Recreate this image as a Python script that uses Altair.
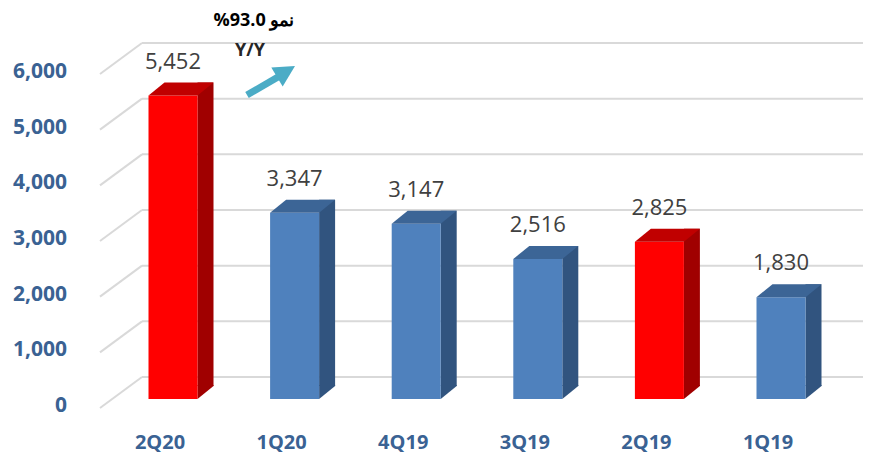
import altair as alt
import pandas as pd

# ---- data ----
quarters = ["2Q20", "1Q20", "4Q19", "3Q19", "2Q19", "1Q19"]
values = [5452, 3347, 3147, 2516, 2825, 1830]
highlighted = ["2Q20", "2Q19"]
y_ticks = [0, 1000, 2000, 3000, 4000, 5000, 6000]
growth_text = "%93.0 نمو"
growth_sub = "Y/Y"

bars = pd.DataFrame({"quarter": quarters, "idx": list(range(len(quarters))), "value": values})
bars["hl"] = bars["quarter"].isin(highlighted)
grid = pd.DataFrame({"tick": y_ticks})
one = pd.DataFrame({"a": [0]})

# ---- style / 3D geometry (pixels) ----
HALF = 24.5   # half front width
DX = 16       # depth, x
DY = 13       # depth, y
GRID_C = "#D9D9D9"
FONT = "Open Sans"

xs = alt.Scale(domain=[0, 5], range=[165, 773])
ys = alt.Scale(domain=[0, 6000], range=[391, 57])

base = alt.Chart(bars).transform_calculate(
    front="datum.hl ? '#FF0000' : '#4F81BD'",
    side="datum.hl ? '#A00000' : '#31547F'",
    top="datum.hl ? '#C00000' : '#3C6596'",
    zero="0",
)

X = alt.X("idx:Q", scale=xs, axis=None)
Y = alt.Y("value:Q", scale=ys, axis=None)

back_grid = alt.Chart(grid).mark_rule(color=GRID_C, strokeWidth=2, yOffset=-22).encode(
    y=alt.Y("tick:Q", scale=ys, axis=None), x=alt.value(134), x2=alt.value(858)
)
slant_grid = alt.Chart(grid).mark_rule(color=GRID_C, strokeWidth=2, yOffset=9, y2Offset=-22).encode(
    y=alt.Y("tick:Q", scale=ys, axis=None), y2="tick:Q", x=alt.value(92), x2=alt.value(134)
)

side = base.mark_bar(xOffset=HALF, x2Offset=HALF + DX, yOffset=-DY, y2Offset=-DY).encode(
    x=X, x2="idx:Q", y=Y, y2="zero:Q", color=alt.Color("side:N", scale=None)
)
side_tri = base.mark_point(
    shape=f"M{HALF},{-DY - 1}L{HALF},0L{HALF + DX},{-DY}L{HALF + DX},{-DY - 1}Z",
    size=4, filled=True, opacity=1, strokeWidth=0,
).encode(x=X, y=alt.Y("zero:Q", scale=ys, axis=None), color=alt.Color("side:N", scale=None))
front = base.mark_bar(xOffset=-HALF, x2Offset=HALF).encode(
    x=X, x2="idx:Q", y=Y, y2="zero:Q", color=alt.Color("front:N", scale=None)
)
top = base.mark_point(
    shape=f"M{-HALF},0L{HALF},0L{HALF + DX},{-DY}L{-HALF + DX},{-DY}Z",
    size=4, filled=True, opacity=1, strokeWidth=0,
).encode(x=X, y=Y, color=alt.Color("top:N", scale=None))

value_labels = base.mark_text(
    dy=-27, baseline="alphabetic", fontSize=22, color="#404040", font=FONT
).encode(x=X, y=Y, text=alt.Text("value:Q", format=","))

x_labels = base.mark_text(
    dx=-13, dy=44, baseline="middle", fontSize=20, fontWeight="bold", color="#3A6293", font=FONT
).encode(x=X, y=alt.Y("zero:Q", scale=ys, axis=None), text="quarter:N")

y_labels = alt.Chart(grid).mark_text(
    align="right", baseline="middle", dy=7, fontSize=21, fontWeight="bold", color="#3A6293", font=FONT
).encode(x=alt.value(59), y=alt.Y("tick:Q", scale=ys, axis=None), text=alt.Text("tick:Q", format=","))

ann1 = alt.Chart(pd.DataFrame({"t": [growth_text]})).mark_text(
    fontSize=18, fontWeight="bold", color="#000000", font=FONT, baseline="middle"
).encode(x=alt.value(246), y=alt.value(13), text="t:N")
ann2 = alt.Chart(pd.DataFrame({"t": [growth_sub]})).mark_text(
    fontSize=18, fontWeight="bold", color="#262626", font=FONT, baseline="middle"
).encode(x=alt.value(242), y=alt.value(43), text="t:N")

arrow_shaft = alt.Chart(one).mark_rule(strokeWidth=7, color="#4BACC6").encode(
    x=alt.value(239), y=alt.value(87), x2=alt.value(270), y2=alt.value(69)
)
arrow_head = alt.Chart(one).mark_point(
    shape="M0,0L-12.3,20.4L-23.7,1.6Z", size=4, filled=True, opacity=1, strokeWidth=0, color="#4BACC6"
).encode(x=alt.value(287), y=alt.value(58))

chart = alt.layer(
    back_grid, slant_grid, side, side_tri, front, top,
    value_labels, x_labels, y_labels, ann1, ann2, arrow_shaft, arrow_head,
).properties(
    width=855, height=448, autosize=alt.AutoSizeParams(type="none"), padding=0
).configure_view(stroke=None)

chart.save("out.html", embed_options={"renderer": "svg", "actions": False})
